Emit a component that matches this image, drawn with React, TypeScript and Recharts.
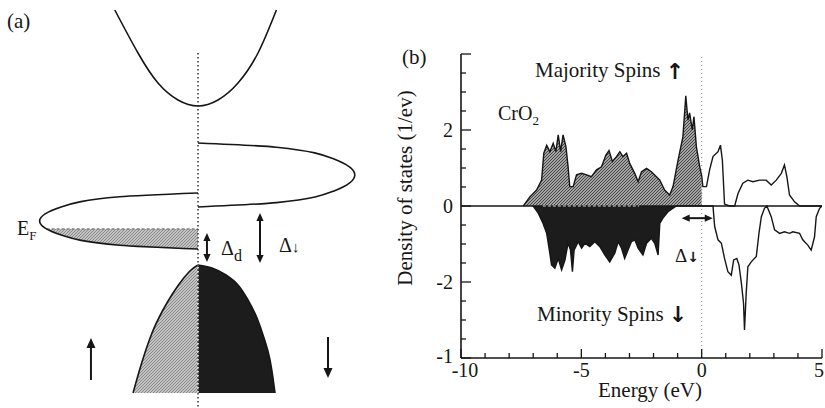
import React from 'react';
import { ComposedChart, Area, Line, XAxis, YAxis, ReferenceLine } from 'recharts';

const FONT = "'Liberation Serif', 'Times New Roman', serif";
const ARROW_FONT = "'DejaVu Sans', sans-serif";
const INK = '#161616';
const DARK = '#1c1c1c';

// ---- (a) schematic bands: k = DOS width (arb.), e = energy relative to E_F (arb.) ----
const conductionK = [-0.52, -0.375, -0.25, -0.125, 0, 0.125, 0.25, 0.375, 0.49];
const conductionE = [10.95, 8.8, 7.3, 6.45, 6.15, 6.45, 7.3, 8.8, 10.95];

const dDownK = [0, 0.49, 0.85, 0.98, 0.85, 0.49, 0];
const dDownE = [4.3, 4.09, 3.5, 2.7, 1.9, 1.32, 1.1];

const dUpK = [0, -0.49, -0.855, -0.99, -0.855, -0.49, 0];
const dUpE = [1.8, 1.61, 1.1, 0.4, -0.3, -0.81, -1.0];

const occupiedK = [-0.946, -0.855, -0.698, -0.49, -0.256, 0];
const occupiedLow = [0, -0.3, -0.59, -0.81, -0.95, -1.0];

const valenceUpK = [-0.406, -0.356, -0.2875, -0.219, -0.156, -0.094, -0.044, 0];
const valenceUpE = [-8.2, -6.8, -5.2, -4.05, -3.2, -2.5, -2.05, -1.8];
const valenceDownK = [0, 0.0875, 0.175, 0.25, 0.3125, 0.36875, 0.4125, 0.45, 0.46875, 0.48125];
const valenceDownE = [-1.8, -1.95, -2.3, -2.8, -3.55, -4.45, -5.45, -6.55, -7.45, -8.2];
const valenceFloor = -8.2;

// arrows of panel (a): [k1, e1, k2, e2, double-headed]
const sketchArrows: [number, number, number, number, boolean][] = [
  [0.056, -0.2, 0.056, -1.65, true],
  [0.3875, 0.8, 0.3875, -1.7, true],
  [-0.669, -7.55, -0.669, -5.45, false],
  [0.8125, -5.4, 0.8125, -7.45, false],
];

// ---- (b) CrO2 density of states (1/eV) vs energy (eV) ----
const upEnergy = [-7.41, -7.14, -6.86, -6.65, -6.56, -6.44, -6.31, -6.17, -6.06, -5.96, -5.86, -5.76, -5.64, -5.55, -5.48, -5.34, -5.2, -4.99, -4.78, -4.58, -4.37, -4.16, -3.98, -3.85, -3.71, -3.54, -3.4, -3.27, -3.12, -2.99, -2.78, -2.64, -2.5, -2.29, -2.09, -1.88, -1.74, -1.54, -1.33, -1.19, -0.98, -0.78, -0.66, -0.57, -0.5, -0.39, -0.32, -0.22, -0.08, 0, 0.05, 0.2, 0.33, 0.47, 0.68, 0.78, 0.86, 0.95, 1.16, 1.37, 1.51, 1.71, 1.92, 2.13, 2.41, 2.68, 2.89, 3.1, 3.31, 3.44, 3.54, 3.65, 3.86, 4.07, 5];
const upDos = [0, 0.24, 0.42, 0.68, 1.39, 1.6, 1.43, 1.65, 1.43, 1.87, 1.43, 1.87, 1.56, 1.03, 0.51, 0.51, 0.82, 0.86, 0.82, 0.77, 0.95, 1.03, 1.34, 1.46, 1.17, 1.3, 1.43, 1.3, 1.39, 1.12, 0.86, 0.64, 0.9, 0.99, 0.9, 0.77, 0.68, 0.42, 0.29, 0.51, 1.21, 1.82, 2.9, 2.26, 2.45, 2.0, 2.35, 1.56, 1.03, 0.8, 0.51, 0.51, 0.95, 1.3, 1.43, 1.6, 1.21, 0.05, 0, 0, 0.33, 0.6, 0.68, 0.64, 0.68, 0.68, 0.55, 0.68, 0.86, 1.08, 0.77, 0.29, 0.11, 0, 0];

const downEnergy = [-7.0, -6.79, -6.59, -6.44, -6.31, -6.24, -6.1, -5.96, -5.82, -5.68, -5.55, -5.45, -5.37, -5.3, -5.13, -4.99, -4.85, -4.65, -4.44, -4.23, -4.02, -3.82, -3.61, -3.47, -3.33, -3.2, -3.06, -2.92, -2.78, -2.64, -2.44, -2.29, -2.09, -1.95, -1.81, -1.74, -1.61, -1.4, -1.05, 0.47, 0.54, 0.68, 0.82, 0.95, 1.09, 1.23, 1.33, 1.46, 1.55, 1.65, 1.74, 1.78, 1.85, 1.92, 2.06, 2.27, 2.38, 2.48, 2.61, 2.71, 2.89, 3.03, 3.24, 3.44, 3.65, 3.79, 4.07, 4.2, 4.41, 4.55, 4.69, 4.76, 4.9, 5.0];
const downDos = [0, -0.19, -0.46, -0.72, -1.24, -1.55, -1.64, -1.38, -1.68, -1.42, -0.98, -1.16, -1.73, -1.16, -0.94, -1.11, -0.98, -1.07, -0.94, -1.07, -1.29, -1.47, -1.24, -0.94, -1.11, -1.38, -1.16, -0.94, -0.89, -1.11, -1.29, -0.98, -0.85, -0.98, -1.29, -0.46, -0.32, -0.15, 0, 0, -0.54, -0.89, -0.98, -1.38, -1.73, -1.82, -1.42, -1.38, -1.55, -2.03, -2.56, -3.26, -2.3, -1.6, -1.47, -1.33, -0.72, -0.28, -0.06, 0, -0.28, -0.63, -0.72, -0.68, -0.72, -0.68, -0.72, -0.89, -1.03, -1.16, -0.81, -0.28, -0.06, 0];

const energyTicks = [-10, -9, -8, -7, -6, -5, -4, -3, -2, -1, 0, 1, 2, 3, 4, 5];
const energyLabels = [-10, -5, 0, 5];
const dosTicks = [-4, -3.5, -3, -2.5, -2, -1.5, -1, -0.5, 0, 0.5, 1, 1.5, 2, 2.5, 3, 3.5, 4];
const dosLabelValues = [-4, -2, 0, 2];
const dosLabelText = ['-1', '-2', '0', '2'];
const gapArrowB: [number, number, number] = [-0.83, 0.46, -0.32]; // e1, e2, dos

const pairs = (xs: number[], ys: number[], xk: string, yk: string) =>
  xs.map((x, i) => ({ [xk]: x, [yk]: ys[i] }));

const conduction = pairs(conductionK, conductionE, 'k', 'e');
const dDown = pairs(dDownK, dDownE, 'k', 'e');
const dUp = pairs(dUpK, dUpE, 'k', 'e');
const occupied = occupiedK.map((k, i) => ({ k, band: [occupiedLow[i], 0] }));
const valenceUp = pairs(valenceUpK, valenceUpE, 'k', 'e');
const valenceDown = pairs(valenceDownK, valenceDownE, 'k', 'e');

const majority = pairs(upEnergy, upDos, 'e', 'dos');
const minority = pairs(downEnergy, downDos, 'e', 'dos');
const majorityFilled = majority.filter((p) => (p.e as number) <= 0);
const minorityFilled = minority.filter((p) => (p.e as number) <= 0);

function arrowShape(double: boolean, size: number, width: number) {
  return (p: any) => {
    const { x1, y1, x2, y2 } = p;
    const dx = x2 - x1;
    const dy = y2 - y1;
    const len = Math.hypot(dx, dy) || 1;
    const ux = dx / len;
    const uy = dy / len;
    const head = (tx: number, ty: number, dir: number) => {
      const bx = tx - dir * ux * size;
      const by = ty - dir * uy * size;
      const nx = -uy * size * 0.45;
      const ny = ux * size * 0.45;
      return <polygon points={`${tx},${ty} ${bx + nx},${by + ny} ${bx - nx},${by - ny}`} fill={INK} />;
    };
    const sx = double ? x1 + ux * size * 0.8 : x1;
    const sy = double ? y1 + uy * size * 0.8 : y1;
    return (
      <g>
        <line x1={sx} y1={sy} x2={x2 - ux * size * 0.8} y2={y2 - uy * size * 0.8} stroke={INK} strokeWidth={width} />
        {double && head(x1, y1, -1)}
        {head(x2, y2, 1)}
      </g>
    );
  };
}

const bandLine = { stroke: INK, strokeWidth: 1.6, dot: false, activeDot: false, isAnimationActive: false } as const;

function BandSketch() {
  return (
    <ComposedChart width={400} height={408} margin={{ top: 0, right: 0, bottom: 0, left: 0 }}>
      <defs>
        <pattern id="lightHatch" width="3" height="3" patternUnits="userSpaceOnUse">
          <rect width="3" height="3" fill="#c2c2c2" />
          <path d="M0,3 L3,0" stroke="#7e7e7e" strokeWidth="0.8" />
        </pattern>
      </defs>
      <XAxis type="number" dataKey="k" domain={[-1.2375, 1.2625]} hide allowDataOverflow />
      <YAxis type="number" domain={[-8.95, 11.45]} hide allowDataOverflow />
      <Area data={valenceUp} dataKey="e" type="monotone" baseValue={valenceFloor} fill="url(#lightHatch)" fillOpacity={1} stroke={INK} strokeWidth={1.6} activeDot={false} isAnimationActive={false} />
      <Area data={valenceDown} dataKey="e" type="monotone" baseValue={valenceFloor} fill={DARK} fillOpacity={1} stroke={INK} strokeWidth={1.6} activeDot={false} isAnimationActive={false} />
      <Area data={occupied} dataKey="band" type="monotone" fill="url(#lightHatch)" fillOpacity={1} stroke="none" dot={false} activeDot={false} isAnimationActive={false} />
      <ReferenceLine segment={[{ x: -0.946, y: 0 }, { x: 0, y: 0 }]} stroke="#808080" strokeWidth={1.6} strokeDasharray="3 2" />
      <ReferenceLine segment={[{ x: 0, y: 8.8 }, { x: 0, y: -8.95 }]} stroke="#4a4a4a" strokeWidth={1.7} strokeDasharray="1.5 2.5" />
      <ReferenceLine segment={[{ x: 0, y: -1.9 }, { x: 0, y: -8.2 }]} stroke="#e6e6e6" strokeWidth={1.7} strokeDasharray="1.5 2.5" />
      <Line data={conduction} dataKey="e" type="natural" {...bandLine} />
      <Line data={dDown} dataKey="e" type="monotoneY" {...bandLine} />
      <Line data={dUp} dataKey="e" type="monotoneY" {...bandLine} />
      {sketchArrows.map(([ka, ea, kb, eb, dbl], i) => (
        <ReferenceLine
          key={i}
          segment={[{ x: ka, y: ea }, { x: kb, y: eb }]}
          shape={arrowShape(dbl, dbl ? 8 : 10, 2)}
        />
      ))}
    </ComposedChart>
  );
}

const tickText = { fontFamily: FONT, fontSize: 20, fill: INK };

// small nudges so the end labels stay inside the frame like the original
const labelNudge = (v: number) => (v === -10 ? 4 : v === 5 ? -3 : 0);

const bottomTick = (p: any) => {
  const v = p.payload.value;
  const major = v % 5 === 0;
  return (
    <g>
      <line x1={p.x} y1={p.y} x2={p.x} y2={p.y - (major ? 9 : 5)} stroke={INK} strokeWidth={1.3} />
      {energyLabels.includes(v) && (
        <text x={p.x + labelNudge(v)} y={p.y + 19} textAnchor="middle" {...tickText}>{String(v)}</text>
      )}
    </g>
  );
};
const topTick = (p: any) => {
  const major = p.payload.value % 5 === 0;
  return <line x1={p.x} y1={p.y} x2={p.x} y2={p.y + (major ? 9 : 5)} stroke={INK} strokeWidth={1.3} />;
};
const leftTick = (p: any) => {
  const v = p.payload.value;
  const major = v % 2 === 0;
  const li = dosLabelValues.indexOf(v);
  return (
    <g>
      <line x1={p.x} y1={p.y} x2={p.x + (major ? 10 : 5)} y2={p.y} stroke={INK} strokeWidth={1.3} />
      {li >= 0 && (
        <text x={p.x - 8} y={p.y + (v === -4 ? 5 : 7)} textAnchor="end" {...tickText}>{dosLabelText[li]}</text>
      )}
    </g>
  );
};
const rightTick = (p: any) => {
  const major = p.payload.value % 2 === 0;
  return <line x1={p.x} y1={p.y} x2={p.x - (major ? 10 : 5)} y2={p.y} stroke={INK} strokeWidth={1.3} />;
};

const frame = { stroke: INK, strokeWidth: 1.6 };

function DosPlot() {
  return (
    <ComposedChart width={435} height={408} margin={{ top: 54, right: 3, bottom: 10, left: 31 }}>
      <defs>
        <pattern id="majorityHatch" width="3" height="3" patternUnits="userSpaceOnUse">
          <rect width="3" height="3" fill="#a2a2a2" />
          <path d="M0,3 L3,0" stroke="#3c3c3c" strokeWidth="0.9" />
        </pattern>
      </defs>
      <XAxis xAxisId="b" type="number" dataKey="e" domain={[-10, 5]} ticks={energyTicks} interval={0} allowDataOverflow height={40} tickSize={0} tickMargin={0} tickLine={false} axisLine={frame} tick={bottomTick} />
      <XAxis xAxisId="t" orientation="top" type="number" dataKey="e" domain={[-10, 5]} ticks={energyTicks} interval={0} allowDataOverflow height={0} tickSize={0} tickMargin={0} tickLine={false} axisLine={frame} tick={topTick} />
      <YAxis yAxisId="l" type="number" domain={[-4, 4]} ticks={dosTicks} interval={0} allowDataOverflow width={40} tickSize={0} tickMargin={0} tickLine={false} axisLine={frame} tick={leftTick} />
      <YAxis yAxisId="r" orientation="right" type="number" domain={[-4, 4]} ticks={dosTicks} interval={0} allowDataOverflow width={0} tickSize={0} tickMargin={0} tickLine={false} axisLine={frame} tick={rightTick} />
      <Area xAxisId="b" yAxisId="l" data={majorityFilled} dataKey="dos" type="linear" baseValue={0} fill="url(#majorityHatch)" fillOpacity={1} stroke="none" activeDot={false} isAnimationActive={false} />
      <Area xAxisId="b" yAxisId="l" data={minorityFilled} dataKey="dos" type="linear" baseValue={0} fill={DARK} fillOpacity={1} stroke="none" activeDot={false} isAnimationActive={false} />
      <ReferenceLine xAxisId="b" yAxisId="l" x={0} stroke="#9a9a9a" strokeWidth={1.2} strokeDasharray="1 3" />
      <ReferenceLine xAxisId="b" yAxisId="l" y={0} stroke={INK} strokeWidth={1.6} />
      <ReferenceLine xAxisId="b" yAxisId="l" segment={[{ x: -6.6, y: 0 }, { x: -2.6, y: 0 }]} stroke="#d8d8d8" strokeWidth={1.2} strokeDasharray="3 2" />
      <Line xAxisId="b" yAxisId="l" data={majority} dataKey="dos" type="linear" stroke={INK} strokeWidth={1.4} dot={false} activeDot={false} isAnimationActive={false} />
      <Line xAxisId="b" yAxisId="l" data={minority} dataKey="dos" type="linear" stroke={INK} strokeWidth={1.4} dot={false} activeDot={false} isAnimationActive={false} />
      <ReferenceLine
        xAxisId="b"
        yAxisId="l"
        segment={[{ x: gapArrowB[0], y: gapArrowB[2] }, { x: gapArrowB[1], y: gapArrowB[2] }]}
        shape={arrowShape(true, 8, 2)}
      />
    </ComposedChart>
  );
}

function Labels() {
  const t = { fontFamily: FONT, fill: INK };
  const a = { fontFamily: ARROW_FONT, fontWeight: 'bold' as const };
  return (
    <svg width={825} height={408} style={{ position: 'absolute', left: 0, top: 0, pointerEvents: 'none' }}>
      <text x={7} y={28} fontSize={21} {...t}>(a)</text>
      <text x={17} y={235} fontSize={20} {...t}>E<tspan fontSize={13} dy={5}>F</tspan></text>
      <text x={221} y={255} fontSize={20} {...t}>Δ<tspan fontSize={16} dy={6}>d</tspan></text>
      <text x={279} y={252} fontSize={20} {...t}>Δ<tspan fontSize={15} fontWeight="bold">↓</tspan></text>

      <text x={402} y={64} fontSize={21} {...t}>(b)</text>
      <text x={535} y={77} fontSize={21} {...t}>Majority Spins <tspan {...a} fontSize={22} dy={2}>↑</tspan></text>
      <text x={498} y={120} fontSize={20} {...t}>CrO<tspan fontSize={13} dy={5}>2</tspan></text>
      <text x={537} y={321} fontSize={21} {...t}>Minority Spins <tspan {...a} fontSize={22} dy={1}>↓</tspan></text>
      <text x={675} y={262} fontSize={19} {...t}>Δ<tspan {...a} fontSize={14}>↓</tspan></text>
      <text x={650} y={397} fontSize={21} textAnchor="middle" {...t}>Energy (eV)</text>
      <text x={412} y={188} fontSize={21} textAnchor="middle" transform="rotate(-90 412 188)" {...t}>Density of states (1/ev)</text>
    </svg>
  );
}

export default function App() {
  return (
    <div style={{ position: 'absolute', left: 0, top: 0, width: 825, height: 408, background: '#fff', overflow: 'hidden' }}>
      <div style={{ position: 'absolute', left: 0, top: 0 }}>
        <BandSketch />
      </div>
      <div style={{ position: 'absolute', left: 390, top: 0 }}>
        <DosPlot />
      </div>
      <Labels />
    </div>
  );
}
